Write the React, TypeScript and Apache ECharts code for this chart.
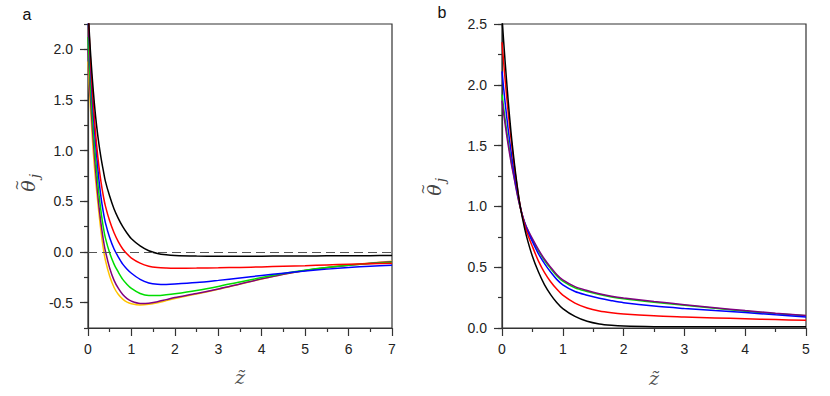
import React, { useEffect, useRef } from "react";
import * as echarts from "echarts";

// ---------- Panel a data ----------
const A_Z = [0, 0.05, 0.1, 0.15, 0.2, 0.25, 0.3, 0.35, 0.4, 0.5, 0.6, 0.7, 0.8, 0.9, 1.0, 1.2, 1.4, 1.6, 1.8, 2.0, 2.5, 3.0, 3.5, 4.0, 4.5, 5.0, 5.5, 6.0, 6.5, 7.0];
const A_BLACK = [2.4, 2.02, 1.71, 1.45, 1.24, 1.07, 0.93, 0.81, 0.7, 0.55, 0.425, 0.33, 0.25, 0.185, 0.13, 0.06, 0.012, -0.014, -0.027, -0.034, -0.04, -0.042, -0.042, -0.041, -0.04, -0.039, -0.038, -0.037, -0.036, -0.035];
const A_RED = [2.4, 1.95, 1.6, 1.3, 1.05, 0.85, 0.69, 0.56, 0.455, 0.305, 0.19, 0.1, 0.03, -0.02, -0.06, -0.11, -0.14, -0.153, -0.158, -0.16, -0.159, -0.156, -0.152, -0.147, -0.141, -0.135, -0.128, -0.121, -0.115, -0.11];
const A_BLUE = [2.35, 1.88, 1.5, 1.2, 0.95, 0.72, 0.54, 0.4, 0.29, 0.14, 0.03, -0.05, -0.12, -0.17, -0.21, -0.27, -0.305, -0.318, -0.32, -0.317, -0.302, -0.28, -0.256, -0.232, -0.209, -0.188, -0.169, -0.153, -0.14, -0.13];
const A_GREEN = [2.12, 1.7, 1.35, 1.05, 0.8, 0.58, 0.4, 0.25, 0.14, -0.01, -0.12, -0.2, -0.27, -0.32, -0.36, -0.41, -0.43, -0.43, -0.423, -0.413, -0.38, -0.34, -0.295, -0.252, -0.213, -0.18, -0.153, -0.131, -0.114, -0.1];
const A_PURPLE = [2.0, 1.58, 1.23, 0.94, 0.68, 0.46, 0.28, 0.13, 0.01, -0.16, -0.28, -0.36, -0.42, -0.46, -0.485, -0.507, -0.505, -0.49, -0.47, -0.45, -0.41, -0.365, -0.315, -0.265, -0.22, -0.183, -0.155, -0.132, -0.112, -0.095];
const A_GOLD = [1.88, 1.47, 1.12, 0.83, 0.6, 0.39, 0.2, 0.04, -0.08, -0.24, -0.35, -0.42, -0.465, -0.495, -0.51, -0.522, -0.515, -0.5, -0.48, -0.458, -0.415, -0.368, -0.317, -0.266, -0.22, -0.182, -0.153, -0.129, -0.109, -0.092];

// ---------- Panel b data ----------
const B_Z = [0, 0.05, 0.1, 0.15, 0.2, 0.25, 0.3, 0.35, 0.4, 0.5, 0.6, 0.7, 0.8, 0.9, 1.0, 1.2, 1.4, 1.6, 1.8, 2.0, 2.5, 3.0, 3.5, 4.0, 4.5, 5.0];
const B_BLACK = [2.55, 2.2, 1.88, 1.6, 1.37, 1.17, 1.0, 0.87, 0.76, 0.59, 0.46, 0.355, 0.275, 0.21, 0.16, 0.095, 0.055, 0.033, 0.022, 0.016, 0.011, 0.01, 0.01, 0.01, 0.01, 0.01];
const B_RED = [2.35, 2.05, 1.78, 1.55, 1.34, 1.16, 1.0, 0.89, 0.8, 0.67, 0.55, 0.455, 0.38, 0.32, 0.27, 0.205, 0.165, 0.14, 0.125, 0.115, 0.1, 0.091, 0.083, 0.076, 0.069, 0.063];
const B_BLUE = [2.11, 1.86, 1.64, 1.45, 1.28, 1.13, 1.0, 0.9, 0.82, 0.71, 0.61, 0.53, 0.46, 0.4, 0.355, 0.3, 0.27, 0.245, 0.225, 0.208, 0.18, 0.16, 0.143, 0.127, 0.108, 0.09];
const B_GREEN = [1.92, 1.72, 1.54, 1.38, 1.24, 1.11, 0.99, 0.9, 0.83, 0.725, 0.635, 0.555, 0.49, 0.43, 0.385, 0.33, 0.3, 0.275, 0.255, 0.24, 0.212, 0.187, 0.162, 0.138, 0.118, 0.1];
const B_PURPLE = [1.87, 1.68, 1.51, 1.36, 1.23, 1.1, 0.99, 0.9, 0.835, 0.735, 0.645, 0.565, 0.5, 0.44, 0.395, 0.34, 0.308, 0.282, 0.262, 0.247, 0.218, 0.192, 0.167, 0.143, 0.122, 0.103];

// ---------- ticks ----------
const A_Y_MAJOR = [-0.5, 0, 0.5, 1.0, 1.5, 2.0];
const B_Y_MAJOR = [0, 0.5, 1.0, 1.5, 2.0, 2.5];

const COLORS = {
  black: "#000000",
  red: "#ff0000",
  blue: "#0000ff",
  green: "#00dd00",
  purple: "#800080",
  gold: "#ffc400",
};

const AXIS_COLOR = "#333333";
const LABEL_FONT = "Liberation Sans";

function pairs(xs: number[], ys: number[]) {
  return xs.map((x, i) => [x, ys[i]]);
}

function line(name: string, xs: number[], ys: number[], color: string, xi: number, yi: number, extra: any = {}) {
  return {
    type: "line",
    name,
    xAxisIndex: xi,
    yAxisIndex: yi,
    data: pairs(xs, ys),
    showSymbol: false,
    smooth: 0.3,
    lineStyle: { color, width: 1.5 },
    itemStyle: { color },
    clip: true,
    ...extra,
  };
}

const serif = { fontFamily: "DejaVu Serif", fontStyle: "italic", fill: "#444", align: "center", verticalAlign: "middle" };

function yLabel(cx: number, cy: number) {
  return {
    type: "group",
    x: cx,
    y: cy,
    rotation: Math.PI / 2,
    children: [
      { type: "text", x: 0, y: 0, style: { ...serif, text: "θ", fontSize: 19 } },
      { type: "text", x: 1, y: -12, style: { ...serif, text: "~", fontSize: 13, fontStyle: "normal" } },
      { type: "text", x: 10, y: 6, style: { ...serif, text: "j", fontSize: 13 } },
    ],
  };
}

function xLabel(cx: number, cy: number) {
  return {
    type: "text",
    x: cx,
    y: cy,
    style: { ...serif, text: "z\u0303", fontSize: 19, fill: "#555" },
  };
}

export default function App() {
  const ref = useRef<HTMLDivElement>(null);

  useEffect(() => {
    if (!ref.current) return;
    const chart = echarts.init(ref.current, undefined, { renderer: "svg" });

    const xAxisCommon = (gridIndex: number, max: number) => ({
      type: "value",
      gridIndex,
      min: 0,
      max,
      interval: 1,
      axisLine: { show: true, onZero: false, lineStyle: { color: AXIS_COLOR, width: 1.2 } },
      axisTick: { show: true, inside: false, length: 8, lineStyle: { color: AXIS_COLOR, width: 1.2 } },
      minorTick: { show: true, splitNumber: 2, length: 4, lineStyle: { color: AXIS_COLOR, width: 1.2 } },
      splitLine: { show: false },
      minorSplitLine: { show: false },
      axisLabel: { color: "#222", fontSize: 14, fontFamily: LABEL_FONT, margin: 14 },
    });

    const yMajor = (gridIndex: number, min: number, max: number, vals: number[]) => ({
      type: "value",
      gridIndex,
      min,
      max,
      position: "left",
      axisLine: { show: true, onZero: false, lineStyle: { color: AXIS_COLOR, width: 1.2 } },
      axisTick: { show: true, length: 8, customValues: vals, lineStyle: { color: AXIS_COLOR, width: 1.2 } },
      axisLabel: {
        color: "#222",
        fontSize: 14,
        fontFamily: LABEL_FONT,
        margin: 15,
        customValues: vals,
        formatter: (v: number) => v.toFixed(1),
      },
      splitLine: { show: false },
    });

    const yMinor = (gridIndex: number, min: number, max: number) => ({
      type: "value",
      gridIndex,
      min,
      max,
      interval: 0.25,
      position: "left",
      offset: 0,
      axisLine: { show: false, onZero: false },
      axisTick: { show: true, length: 4, lineStyle: { color: AXIS_COLOR, width: 1.2 } },
      axisLabel: { show: false },
      splitLine: { show: false },
    });

    const option: any = {
      animation: false,
      backgroundColor: "#ffffff",
      grid: [
        { left: 88, top: 24, width: 304, height: 304, show: true, borderColor: AXIS_COLOR, borderWidth: 1.2, backgroundColor: "transparent" },
        { left: 502, top: 24, width: 304, height: 304, show: true, borderColor: AXIS_COLOR, borderWidth: 1.2, backgroundColor: "transparent" },
      ],
      xAxis: [xAxisCommon(0, 7), xAxisCommon(1, 5)],
      yAxis: [
        yMajor(0, -0.75, 2.25, A_Y_MAJOR),
        yMinor(0, -0.75, 2.25),
        yMajor(1, 0, 2.5, B_Y_MAJOR),
        yMinor(1, 0, 2.5),
      ],
      series: [
        line("a-gold", A_Z, A_GOLD, COLORS.gold, 0, 0),
        line("a-purple", A_Z, A_PURPLE, COLORS.purple, 0, 0),
        line("a-green", A_Z, A_GREEN, COLORS.green, 0, 0),
        line("a-blue", A_Z, A_BLUE, COLORS.blue, 0, 0),
        line("a-red", A_Z, A_RED, COLORS.red, 0, 0),
        line("a-black", A_Z, A_BLACK, COLORS.black, 0, 0, {
          markLine: {
            silent: true,
            symbol: "none",
            label: { show: false },
            lineStyle: { color: "#555", type: [9, 5], width: 1.2 },
            data: [{ yAxis: 0 }],
          },
        }),
        line("b-green", B_Z, B_GREEN, COLORS.green, 1, 2),
        line("b-purple", B_Z, B_PURPLE, COLORS.purple, 1, 2),
        line("b-blue", B_Z, B_BLUE, COLORS.blue, 1, 2),
        line("b-red", B_Z, B_RED, COLORS.red, 1, 2),
        line("b-black", B_Z, B_BLACK, COLORS.black, 1, 2),
      ],
      graphic: [
        { type: "text", x: 27, y: 14, style: { text: "a", fontFamily: LABEL_FONT, fontSize: 16, fill: "#111", align: "center", verticalAlign: "middle" } },
        { type: "text", x: 442, y: 12, style: { text: "b", fontFamily: LABEL_FONT, fontSize: 16, fill: "#111", align: "center", verticalAlign: "middle" } },
        yLabel(28, 186),
        yLabel(434, 190),
        xLabel(240, 377),
        xLabel(654, 378),
      ],
    };

    chart.setOption(option);
    return () => chart.dispose();
  }, []);

  return (
    <div
      ref={ref}
      style={{ position: "fixed", left: 0, top: 0, width: 830, height: 396, background: "#fff" }}
    />
  );
}
